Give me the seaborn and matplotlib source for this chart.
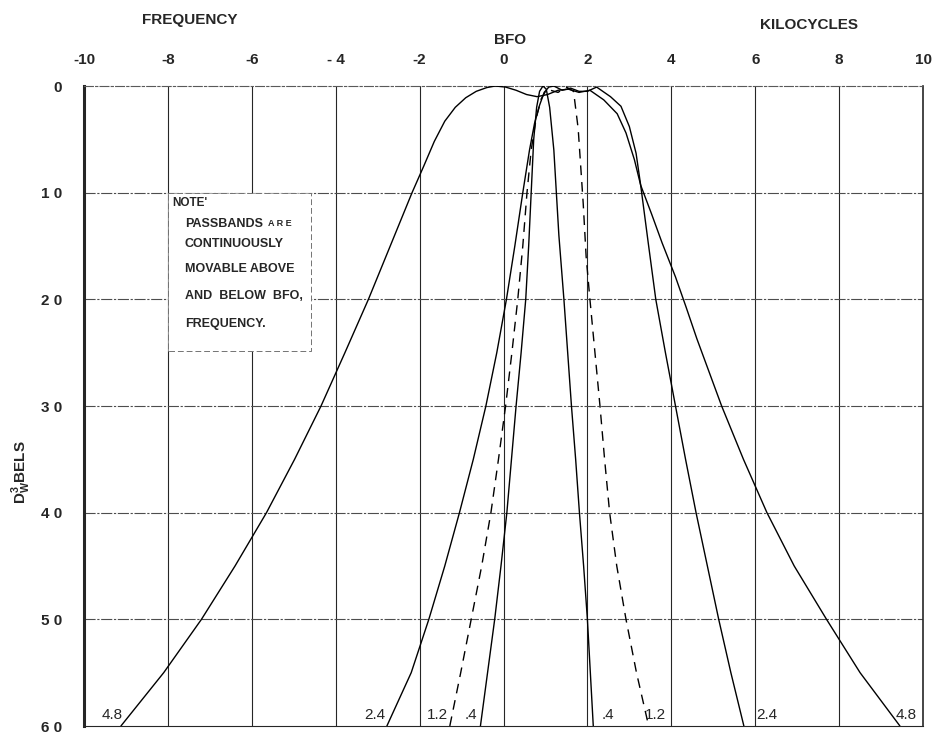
import matplotlib
matplotlib.use("Agg")
import matplotlib.pyplot as plt
import seaborn as sns
from matplotlib.patches import Rectangle

# passband curves, frequency (kc) vs attenuation (db)
bw48_kc = [-9.12, -8.1, -7.2, -6.4, -5.65, -4.98, -4.35, -3.78, -3.22, -2.7,
           -2.18, -1.9, -1.65, -1.4, -1.15, -0.9, -0.65, -0.4, -0.2, 0.05,
           0.3, 0.55, 0.8, 1.05, 1.3, 1.55, 1.8, 2.06, 2.39, 2.71,
           2.92, 3.12, 3.27, 3.53, 3.78, 4.1, 4.35, 4.61, 5.2, 5.72,
           6.28, 6.93, 7.7, 8.5, 9.45]
bw48_db = [60, 55, 50, 45, 40, 35, 30, 25, 20, 15,
           10, 7.5, 5.2, 3.3, 2.0, 1.1, 0.5, 0.15, 0.0, 0.1,
           0.4, 0.8, 1.0, 0.8, 0.4, 0.3, 0.6, 0.4, 1.3, 2.6,
           4.4, 6.9, 9.3, 12.0, 14.7, 17.9, 20.7, 23.7, 30, 35,
           40, 45, 50, 55, 60]

bw24_kc = [-2.78, -2.2, -1.78, -1.4, -1.05, -0.72, -0.42, -0.16, 0.07, 0.27,
           0.46, 0.62, 0.74, 0.86, 0.97, 1.08, 1.2, 1.4, 1.6, 1.8,
           2.0, 2.22, 2.55, 2.8, 3.0, 3.16, 3.27, 3.45, 3.63, 3.86,
           4.1, 4.34, 4.59, 4.86, 5.13, 5.42, 5.73]
bw24_db = [60, 55, 50, 45, 40, 35, 30, 25, 20, 15,
           10, 6, 3.5, 1.8, 0.6, 0.1, 0.0, 0.4, 0.2, 0.5,
           0.5, 0.1, 1.0, 1.9, 3.8, 6.3, 9.3, 14.7, 20, 25,
           30, 35, 40, 45, 50, 55, 60]

bw12_kc = [-1.28, -1.02, -0.77, -0.52, -0.3, -0.12, 0.05, 0.2, 0.34, 0.46,
           0.56, 0.66, 0.78, 0.9, 1.03, 1.3, 1.5, 1.67, 1.78, 1.9,
           1.97, 2.06, 2.18, 2.3, 2.41, 2.53, 2.7, 2.92, 3.17, 3.46]
bw12_db = [60, 55, 50, 45, 40, 35, 30, 25, 20, 15,
           10, 6, 3, 1.2, 0.3, 0.6, 0.1, 0.5, 4.0, 11.0,
           16, 20, 25, 30, 35, 40, 45, 50, 55, 60]

bw04_kc = [-0.55, -0.38, -0.21, -0.06, 0.08, 0.19, 0.3, 0.42, 0.53, 0.6,
           0.66, 0.72, 0.79, 0.86, 0.94, 1.02, 1.1, 1.2, 1.32, 1.44,
           1.53, 1.62, 1.72, 1.81, 1.91, 2.0, 2.07, 2.14]
bw04_db = [60, 55, 50, 45, 40, 35, 30, 25, 20, 15,
           10, 5, 2, 0.5, 0, 0.3, 2, 6, 14, 20,
           25, 30, 35, 40, 45, 50, 55, 60]

# labels at the foot of each skirt
end_labels = ["4.8", "2.4", "1.2", ".4", ".4", "1.2", "2.4", "4.8"]
end_label_kc = [-9.33, -3.06, -1.57, -0.78, 2.49, 3.63, 6.27, 9.6]

x_ticks = [-10, -8, -6, -4, -2, 0, 2, 4, 6, 8, 10]
x_ticklabels = ["-10", "-8", "-6", "- 4", "-2", "0", "2", "4", "6", "8", "10"]
y_ticks = [0, 10, 20, 30, 40, 50, 60]
y_ticklabels = ["0", "1 0", "2 0", "3 0", "4 0", "5 0", "6 0"]

note_lines = ["PASSBANDS", "CONTINUOUSLY", "MOVABLE ABOVE", "AND  BELOW  BFO,", "FREQUENCY."]
note_db = [12.9, 14.8, 17.2, 19.7, 22.3]

sns.set_style("white")
plt.rcParams["font.family"] = ["Liberation Sans", "DejaVu Sans"]
plt.rcParams["mathtext.fontset"] = "custom"
plt.rcParams["mathtext.rm"] = "Liberation Sans:bold"

fig = plt.figure(figsize=(9.4, 7.35), dpi=100)
ax = fig.add_axes([84 / 940, 1 - 726 / 735, (923 - 84) / 940, (726 - 86) / 735])

curve_kw = dict(sort=False, estimator=None, color="black", linewidth=1.0, ax=ax, zorder=4,
                solid_joinstyle="round")
sns.lineplot(x=bw48_kc, y=bw48_db, **curve_kw)
sns.lineplot(x=bw24_kc, y=bw24_db, **curve_kw)
sns.lineplot(x=bw04_kc, y=bw04_db, **curve_kw)
sns.lineplot(x=bw12_kc, y=bw12_db, linestyle=(0, (7, 5)), **curve_kw)

ax.set_xlim(-10, 10)
ax.set_ylim(60, 0)

# grid
for xv in x_ticks[1:-1]:
    ax.axvline(xv, color="0.15", linewidth=0.8, zorder=1)
for yv in y_ticks[1:-1]:
    ax.axhline(yv, color="0.3", linewidth=0.8, linestyle=(0, (10, 1.5, 2, 1.5)), zorder=1)

# note box
ax.add_patch(Rectangle((-8.0, 10.0), 3.4, 14.8, facecolor="white", edgecolor="0.45",
                       linewidth=0.7, linestyle=(0, (6, 3)), zorder=2))
ax.text(-7.9, 11.0, "NOTE'", fontsize=8.5, fontweight="bold", va="center", ha="left", zorder=3)
for line, yv in zip(note_lines, note_db):
    ax.text(-7.6, yv, line, fontsize=9, fontweight="bold", va="center", ha="left", zorder=3)
ax.text(-5.62, note_db[0], "A R E", fontsize=6.5, fontweight="bold", va="center", ha="left", zorder=3)

for lab, xv in zip(end_labels, end_label_kc):
    ax.text(xv, 59.0, lab, fontsize=11, va="center", ha="center", zorder=5)

ax.set_xticks(x_ticks)
ax.set_xticklabels(x_ticklabels, fontsize=11, fontweight="bold")
ax.set_yticks(y_ticks)
ax.set_yticklabels(y_ticklabels, fontsize=11, fontweight="bold")
ax.xaxis.tick_top()
ax.tick_params(axis="x", length=0, pad=14)
ax.tick_params(axis="y", length=0, pad=16)
ax.set_xlabel("")
ax.set_ylabel("")

ax.spines["left"].set_linewidth(2.2)
ax.spines["right"].set_linewidth(1.2)
ax.spines["bottom"].set_linewidth(0.8)
ax.spines["top"].set_linewidth(0.8)
ax.spines["top"].set_linestyle((0, (8, 2, 2, 2)))
ax.spines["top"].set_color("0.35")
for s in ax.spines.values():
    s.set_visible(True)

fig.text(190 / 940, 1 - 20 / 735, "FREQUENCY", fontsize=11, fontweight="bold", ha="center", va="center")
fig.text(809 / 940, 1 - 25 / 735, "KILOCYCLES", fontsize=11, fontweight="bold", ha="center", va="center")
fig.text(510 / 940, 1 - 40 / 735, "BFO", fontsize=11, fontweight="bold", ha="center", va="center")
fig.text(21 / 940, 1 - 472 / 735, r"D$_{\mathrm{W}}^{\mathrm{3}}$BELS", fontsize=11, fontweight="bold",
         rotation=90, ha="center", va="center")

fig.savefig("out.png", dpi=100)
